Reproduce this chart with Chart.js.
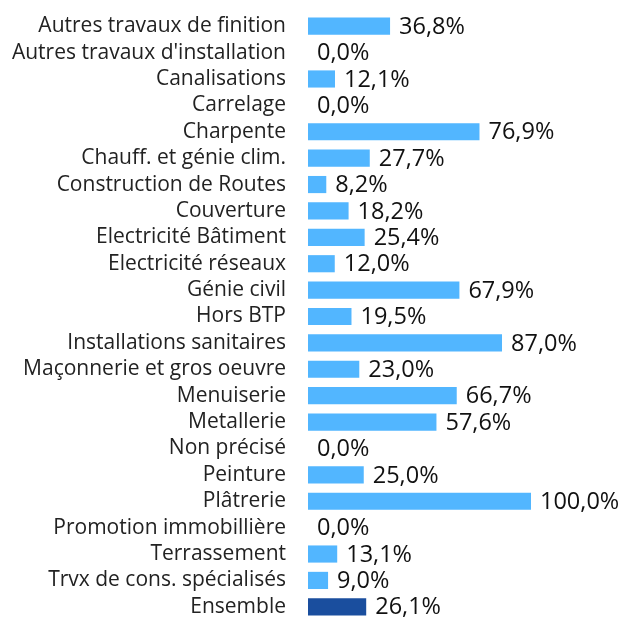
<!DOCTYPE html>
<html lang="fr">
<head>
<meta charset="UTF-8">
<title>Taux par activité</title>
<script src="https://cdn.jsdelivr.net/npm/chart.js"></script>
<style>
    body, html { margin: 0; padding: 0; background: #fff; overflow: hidden; }
    #wrap { width: 626px; height: 620px; }
</style>
</head>
<body>
<div id="wrap"><canvas id="chart"></canvas></div>
<script>
// categories and values
const categories = [
    'Autres travaux de finition', "Autres travaux d'installation", 'Canalisations', 'Carrelage',
    'Charpente', 'Chauff. et génie clim.', 'Construction de Routes', 'Couverture',
    'Electricité Bâtiment', 'Electricité réseaux', 'Génie civil', 'Hors BTP',
    'Installations sanitaires', 'Maçonnerie et gros oeuvre', 'Menuiserie', 'Metallerie',
    'Non précisé', 'Peinture', 'Plâtrerie', 'Promotion immobillière',
    'Terrassement', 'Trvx de cons. spécialisés', 'Ensemble'
];
const values = [
    36.8, 0.0, 12.1, 0.0,
    76.9, 27.7, 8.2, 18.2,
    25.4, 12.0, 67.9, 19.5,
    87.0, 23.0, 66.7, 57.6,
    0.0, 25.0, 100.0, 0.0,
    13.1, 9.0, 26.1
];

const lightBlue = '#52b6ff';
const darkBlue = '#1a4e9e';
const colors = categories.map(c => c === 'Ensemble' ? darkBlue : lightBlue);

function fmt(v) {
    return v.toFixed(1).replace('.', ',') + '%';
}

// draws the value next to each bar
const valueLabels = {
    id: 'valueLabels',
    afterDatasetsDraw(chart) {
        const ctx = chart.ctx;
        const meta = chart.getDatasetMeta(0);
        ctx.save();
        ctx.font = '23.5px "Open Sans"';
        ctx.fillStyle = '#111';
        ctx.textBaseline = 'middle';
        ctx.textAlign = 'left';
        meta.data.forEach((bar, i) => {
            ctx.fillText(fmt(values[i]), bar.x + 9, bar.y + 1);
        });
        ctx.restore();
    }
};

new Chart(document.getElementById('chart'), {
    type: 'bar',
    data: {
        labels: categories,
        datasets: [{
            data: values,
            backgroundColor: colors,
            borderWidth: 0,
            categoryPercentage: 1,
            barPercentage: 0.65
        }]
    },
    options: {
        indexAxis: 'y',
        responsive: true,
        maintainAspectRatio: false,
        animation: false,
        layout: { padding: { top: 13, right: 95, bottom: 0, left: 0 } },
        plugins: {
            legend: { display: false },
            tooltip: { enabled: false }
        },
        scales: {
            x: {
                display: false,
                min: 0,
                max: 100
            },
            y: {
                grid: { display: false, drawTicks: false },
                border: { display: false },
                ticks: {
                    autoSkip: false,
                    padding: 22,
                    color: '#222',
                    font: { family: '"Open Sans"', size: 21 }
                },
                afterFit(scale) {
                    scale.width = 308;
                    scale.paddingTop = 0;
                    scale.paddingBottom = 0;
                }
            }
        }
    },
    plugins: [valueLabels]
});
</script>
</body>
</html>
